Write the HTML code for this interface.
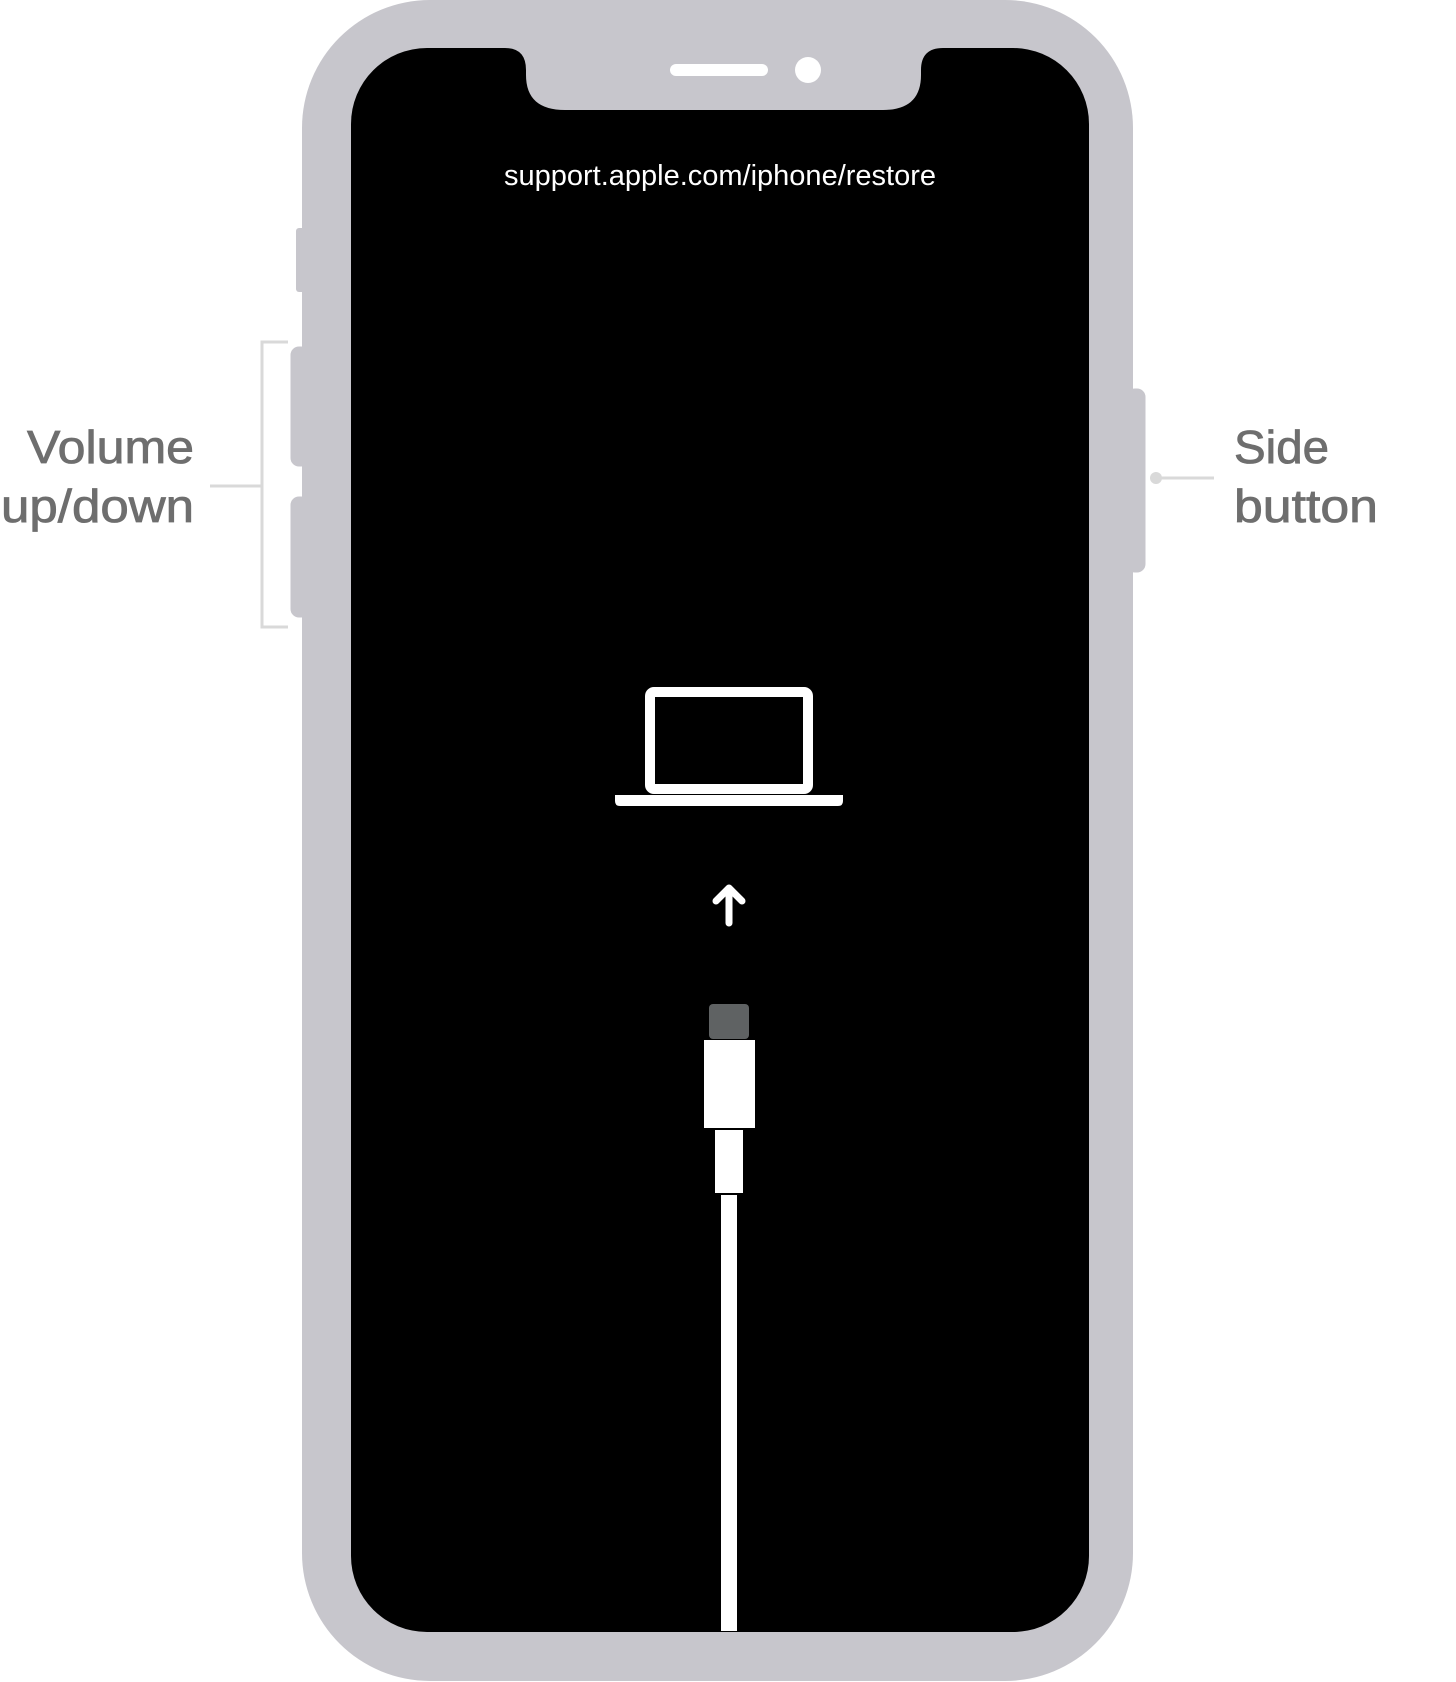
<!DOCTYPE html>
<html><head><meta charset="utf-8"><style>html,body{margin:0;padding:0;background:#fff}svg{display:block}</style></head>
<body>
<svg width="1456" height="1682" viewBox="0 0 1456 1682" xmlns="http://www.w3.org/2000/svg">
<rect x="0" y="0" width="1456" height="1682" fill="#fff"/>
<!-- buttons -->
<rect x="296" y="228" width="10" height="64" rx="3" fill="#c7c6cc"/>
<rect x="289" y="345" width="22" height="123" rx="10" fill="#c7c6cc" stroke="#fff" stroke-width="3"/>
<rect x="289" y="495" width="22" height="124" rx="10" fill="#c7c6cc" stroke="#fff" stroke-width="3"/>
<rect x="1125" y="387" width="22" height="187" rx="10" fill="#c7c6cc" stroke="#fff" stroke-width="3"/>
<!-- body -->
<rect x="302" y="0" width="831" height="1681" rx="128" fill="#c7c6cc"/>
<rect x="351" y="48" width="738" height="1584" rx="76" fill="#000"/>
<!-- notch -->
<path d="M505 48 Q526 48 526 70 L526 75 Q526 110 565 110 L883 110 Q921 110 921 75 L921 70 Q921 48 943 48 Z" fill="#c7c6cc"/>
<rect x="670" y="64" width="98" height="12" rx="6" fill="#fff"/>
<circle cx="808" cy="70" r="13" fill="#fff"/>
<text x="720" y="185" text-anchor="middle" font-family="Liberation Sans, sans-serif" font-size="29" fill="#fff" textLength="432" lengthAdjust="spacingAndGlyphs">support.apple.com/iphone/restore</text>
<!-- laptop -->
<rect x="650" y="692" width="158" height="97" rx="4" fill="none" stroke="#fff" stroke-width="10"/>
<path d="M615 795 L843 795 L843 801 Q843 806 838 806 L620 806 Q615 806 615 801 Z" fill="#fff"/>
<!-- arrow -->
<path d="M729 923 L729 889 M716 901 L729 888 L742 901" fill="none" stroke="#fff" stroke-width="7" stroke-linecap="round" stroke-linejoin="round"/>
<!-- connector -->
<rect x="709" y="1004" width="40" height="35" rx="4" fill="#5f6263"/>
<rect x="704" y="1040" width="51" height="88" fill="#fff"/>
<rect x="715" y="1130" width="28" height="63" fill="#fff"/>
<rect x="721" y="1195" width="16" height="436" fill="#fff"/>
<!-- volume bracket -->
<path d="M288 342 L262 342 L262 627 L288 627" fill="none" stroke="#d9d9d9" stroke-width="3"/>
<line x1="210" y1="486" x2="262" y2="486" stroke="#d9d9d9" stroke-width="3"/>
<!-- side connector -->
<circle cx="1156" cy="478" r="6" fill="#d9d9d9"/>
<line x1="1156" y1="478" x2="1214" y2="478" stroke="#d9d9d9" stroke-width="3"/>
<g font-family="Liberation Sans, sans-serif" font-size="46" fill="#6e6e6e" stroke="#6e6e6e" stroke-width="0.8">
<text x="27" y="463" textLength="167" lengthAdjust="spacingAndGlyphs">Volume</text>
<text x="1" y="522" textLength="193" lengthAdjust="spacingAndGlyphs">up/down</text>
<text x="1234" y="463" textLength="95" lengthAdjust="spacingAndGlyphs">Side</text>
<text x="1234" y="522" textLength="144" lengthAdjust="spacingAndGlyphs">button</text>
</g>
</svg>
</body></html>
